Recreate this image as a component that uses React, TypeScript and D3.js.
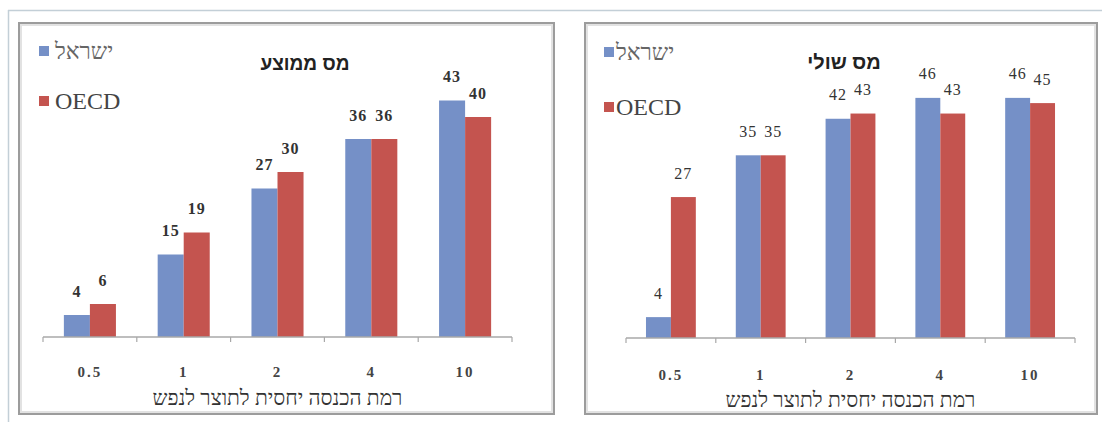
import React from "react";
import * as d3 from "d3";

const categories = ["0.5", "1", "2", "4", "10"];
const seriesNames = ["ישראל", "OECD"];
const avgIsrael = [4, 15, 27, 36, 43];
const avgOECD = [6, 19, 30, 36, 40];
const margIsrael = [4, 35, 42, 46, 46];
const margOECD = [27, 35, 43, 43, 45];
const titleAvg = "מס ממוצע";
const titleMarg = "מס שולי";
const xAxisTitle = "רמת הכנסה יחסית לתוצר לנפש";

const COLORS = ["#7590c7", "#c4544f"];
const SERIF = "'Liberation Serif', 'DejaVu Serif', serif";
const SANS = "'Liberation Sans', 'DejaVu Sans', sans-serif";

type PanelProps = {
  box: { x: number; y: number; w: number; h: number };
  xRange: [number, number];
  baseline: number;
  top50: number;
  title: string;
  titleX: number;
  titleY: number;
  titleSize: number;
  series: number[][];
  legend: { x: number; y1: number; y2: number; textX: number };
  labelBold: boolean;
  tickY: number;
  axisTitleY: number;
};

function Panel(p: PanelProps) {
  const x = d3.scaleBand<string>().domain(categories).range(p.xRange).padding(0);
  const y = d3.scaleLinear().domain([0, 50]).range([p.baseline, p.top50]);
  const bw = x.bandwidth();
  const groupW = bw * 0.555;
  const inner = d3
    .scaleBand<number>()
    .domain(d3.range(p.series.length))
    .range([-groupW / 2, groupW / 2])
    .padding(0);
  const ticks = [...categories.map((c) => x(c)!), p.xRange[1]];
  return (
    <g>
      <rect x={p.box.x} y={p.box.y} width={p.box.w} height={p.box.h} fill="#fff" stroke="#9c9c9c" strokeWidth={2} />
      <rect x={p.box.x + 2} y={p.box.y + 2} width={p.box.w - 4} height={p.box.h - 4} fill="none" stroke="#e2e2e2" strokeWidth={2} />
      {p.series.map((vals, si) =>
        vals.map((v, ci) => {
          const cx = x(categories[ci])! + bw / 2;
          const bx = cx + inner(si)!;
          return (
            <rect key={`b${si}-${ci}`} x={bx} y={y(v)} width={inner.bandwidth()} height={p.baseline - y(v)} fill={COLORS[si]} />
          );
        })
      )}
      {p.series.map((vals, si) =>
        vals.map((v, ci) => {
          const cx = x(categories[ci])! + bw / 2 + inner(si)! + inner.bandwidth() / 2;
          return (
            <text
              key={`l${si}-${ci}`}
              x={cx}
              y={y(v) - 24}
              dominantBaseline="central"
              textAnchor="middle"
              fontFamily={SERIF}
              fontSize={16}
              fontWeight={p.labelBold ? "bold" : "normal"}
              fill="#333"
              letterSpacing={1}
            >
              {v}
            </text>
          );
        })
      )}
      <line x1={p.xRange[0]} x2={p.xRange[1]} y1={p.baseline} y2={p.baseline} stroke="#a8a8a8" strokeWidth={1.5} />
      {ticks.map((t, i) => (
        <line key={`t${i}`} x1={t} x2={t} y1={p.baseline} y2={p.baseline + 5} stroke="#a8a8a8" strokeWidth={1.2} />
      ))}
      {categories.map((c) => (
        <text
          key={`c${c}`}
          x={x(c)! + bw / 2}
          y={p.tickY}
          dominantBaseline="central"
          textAnchor="middle"
          fontFamily={SERIF}
          fontSize={15}
          fontWeight="bold"
          fill="#444"
          letterSpacing={2}
        >
          {c}
        </text>
      ))}
      <text
        x={(p.xRange[0] + p.xRange[1]) / 2}
        y={p.axisTitleY}
        dominantBaseline="central"
        textAnchor="middle"
        fontFamily={SERIF}
        fontSize={21}
        fill="#333"
      >
        {xAxisTitle}
      </text>
      <text
        x={p.titleX}
        y={p.titleY}
        dominantBaseline="central"
        textAnchor="middle"
        fontFamily={SANS}
        fontSize={p.titleSize}
        fontWeight="bold"
        fill="#222"
      >
        {p.title}
      </text>
      {seriesNames.map((n, i) => {
        const ly = i === 0 ? p.legend.y1 : p.legend.y2;
        return (
          <g key={`lg${i}`}>
            <rect x={p.legend.x} y={ly - 5} width={10} height={10} fill={COLORS[i]} />
            <text
              x={p.legend.textX}
              y={ly}
              dominantBaseline="central"
              textAnchor="start"
              fontFamily={SERIF}
              fontSize={i === 0 ? 23 : 24}
              fill={i === 0 ? "#666" : "#444"}
            >
              {n}
            </text>
          </g>
        );
      })}
    </g>
  );
}

export default function App() {
  return (
    <svg
      width={1102}
      height={422}
      style={{ position: "absolute", left: 0, top: 0, background: "#fff" }}
    >
      <rect x={0} y={0} width={1102} height={422} fill="#fff" />
      <line x1={8} x2={1102} y1={10.5} y2={10.5} stroke="#c3cfd7" strokeWidth={1.5} />
      <line x1={8.5} x2={8.5} y1={10} y2={422} stroke="#c3cfd7" strokeWidth={1.5} />
      <Panel
        box={{ x: 19, y: 23, w: 535, h: 391 }}
        xRange={[43, 512]}
        baseline={337}
        top50={62}
        title={titleAvg}
        titleX={305}
        titleY={63}
        titleSize={19}
        series={[avgIsrael, avgOECD]}
        legend={{ x: 39, y1: 51, y2: 101, textX: 55 }}
        labelBold={true}
        tickY={372}
        axisTitleY={398}
      />
      <Panel
        box={{ x: 585, y: 23, w: 512, h: 391 }}
        xRange={[626, 1075]}
        baseline={338}
        top50={77}
        title={titleMarg}
        titleX={844}
        titleY={62}
        titleSize={20}
        series={[margIsrael, margOECD]}
        legend={{ x: 604, y1: 52, y2: 107, textX: 616 }}
        labelBold={false}
        tickY={375}
        axisTitleY={400}
      />
    </svg>
  );
}
